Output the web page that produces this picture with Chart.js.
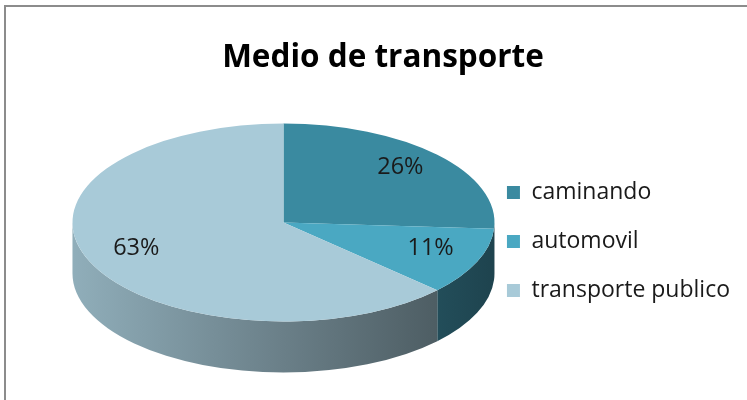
<!DOCTYPE html>
<html>
<head>
<meta charset="utf-8">
<script src="https://cdn.jsdelivr.net/npm/chart.js@4.4.1/dist/chart.umd.min.js"></script>
<style>
  html, body { margin: 0; padding: 0; background: #fff; overflow: hidden; }
  #frame {
    position: absolute; left: 4px; top: 5px;
    width: 770px; height: 420px;
    border: 2px solid #8c8c8c; background: #fff;
  }
  #title {
    position: absolute; left: 0; top: 26px; width: 754px;
    text-align: center; line-height: 38px;
    font: bold 31.5px "Open Sans", sans-serif; color: #000;
  }
  #chart { display: block; }
</style>
</head>
<body>
<div id="frame">
  <canvas id="chart" width="764" height="393"></canvas>
  <div id="title">Medio de transporte</div>
</div>
<script>
// data
const categories = ['caminando', 'automovil', 'transporte publico'];
const percentages = [26, 11, 63];
const sliceColors = ['#3a8aa0', '#4aa8c2', '#a8cad8'];

// darken a hex colour by factor f
function shade(hex, f) {
  const n = parseInt(hex.slice(1), 16);
  const r = Math.round(((n >> 16) & 255) * f);
  const g = Math.round(((n >> 8) & 255) * f);
  const b = Math.round((n & 255) * f);
  return 'rgb(' + r + ',' + g + ',' + b + ')';
}

// fake 3D: squash the pie into an ellipse and draw the side wall under it
const pie3d = {
  id: 'pie3d',
  beforeDatasetsDraw(chart, args, opts) {
    const arcs = chart.getDatasetMeta(0).data;
    if (!arcs.length) return;
    const ctx = chart.ctx;
    const cx = arcs[0].x, cy = arcs[0].y, r = arcs[0].outerRadius;
    const ry = r * opts.tilt, d = opts.depth;

    arcs.forEach((arc, i) => {
      const a0 = Math.max(arc.startAngle, 0);
      const a1 = Math.min(arc.endAngle, Math.PI);
      if (a1 <= a0) return;
      const base = sliceColors[i];
      const grad = ctx.createLinearGradient(cx - r, 0, cx + r, 0);
      grad.addColorStop(0, shade(base, 0.86));
      grad.addColorStop(0.5, shade(base, 0.63));
      grad.addColorStop(1, shade(base, 0.4));
      ctx.beginPath();
      ctx.ellipse(cx, cy, r, ry, 0, a0, a1);
      ctx.lineTo(cx + r * Math.cos(a1), cy + d + ry * Math.sin(a1));
      ctx.ellipse(cx, cy + d, r, ry, 0, a1, a0, true);
      ctx.closePath();
      ctx.fillStyle = grad;
      ctx.fill();
    });

    ctx.save();
    ctx.translate(cx, cy);
    ctx.scale(1, opts.tilt);
    ctx.translate(-cx, -cy);
  },
  afterDatasetsDraw(chart, args, opts) {
    const arcs = chart.getDatasetMeta(0).data;
    if (!arcs.length) return;
    const ctx = chart.ctx;
    ctx.restore();
    const values = chart.data.datasets[0].data;
    ctx.save();
    ctx.font = opts.font;
    ctx.fillStyle = '#1a1a1a';
    ctx.textAlign = 'center';
    ctx.textBaseline = 'middle';
    arcs.forEach((arc, i) => {
      const mid = (arc.startAngle + arc.endAngle) / 2;
      const x = arc.x + Math.cos(mid) * arc.outerRadius * opts.labelPos;
      const y = arc.y + Math.sin(mid) * arc.outerRadius * opts.tilt * opts.labelPos - opts.lift;
      ctx.fillText(values[i] + '%', x, y);
    });
    ctx.restore();
  }
};

new Chart(document.getElementById('chart'), {
  type: 'pie',
  data: {
    labels: categories,
    datasets: [{
      data: percentages,
      backgroundColor: sliceColors,
      borderWidth: 0,
      radius: 211
    }]
  },
  options: {
    responsive: false,
    animation: false,
    events: [],
    layout: { padding: { left: 80, right: 30, top: 110, bottom: 72 } },
    plugins: {
      legend: {
        position: 'right',
        align: 'end',
        labels: {
          color: '#1a1a1a',
          boxWidth: 13,
          boxHeight: 13,
          padding: 26,
          font: { family: 'Open Sans', size: 23 }
        }
      },
      tooltip: { enabled: false },
      pie3d: { tilt: 0.469, depth: 51, labelPos: 0.76, lift: 4, font: '23.5px "Open Sans"' }
    }
  },
  plugins: [pie3d]
});
</script>
</body>
</html>
